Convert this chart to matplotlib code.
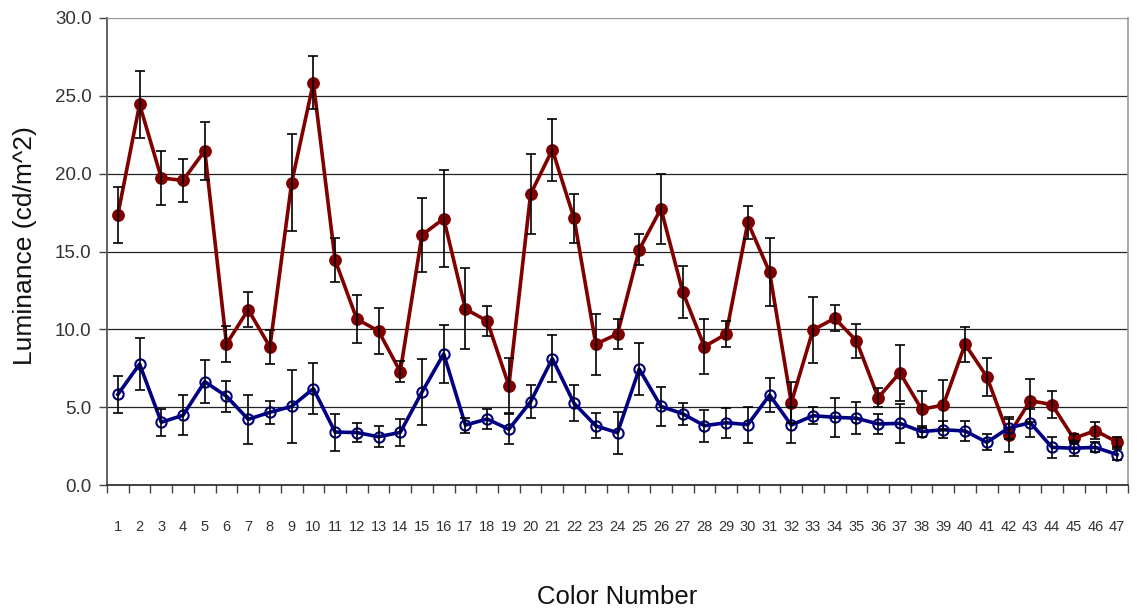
import matplotlib
matplotlib.use("Agg")
import matplotlib.pyplot as plt
from matplotlib.ticker import FixedLocator, FixedFormatter, NullFormatter
import numpy as np

color_numbers = list(range(1, 48))

# Luminance of the bright series (filled markers) and its error
bright_mean = [17.37, 24.45, 19.72, 19.57, 21.48, 9.06, 11.26, 8.87, 19.42, 25.85,
               14.45, 10.66, 9.89, 7.28, 16.06, 17.11, 11.31, 10.54, 6.38, 18.69,
               21.54, 17.13, 9.05, 9.70, 15.12, 17.75, 12.42, 8.89, 9.70, 16.87,
               13.68, 5.29, 9.96, 10.71, 9.26, 5.61, 7.22, 4.86, 5.14, 9.04,
               6.96, 3.19, 5.42, 5.16, 3.00, 3.49, 2.76]
bright_err = [1.80, 2.17, 1.76, 1.39, 1.86, 1.18, 1.14, 1.07, 3.10, 1.70,
              1.43, 1.53, 1.46, 0.69, 2.35, 3.10, 2.60, 0.94, 1.78, 2.59,
              1.99, 1.56, 1.96, 0.97, 1.00, 2.25, 1.67, 1.78, 0.84, 1.04,
              2.20, 1.32, 2.10, 0.84, 1.08, 0.63, 1.80, 1.19, 1.58, 1.14,
              1.23, 1.05, 1.36, 0.87, 0.30, 0.53, 0.34]

# Luminance of the dim series (open markers) and its error
dim_mean = [5.82, 7.77, 4.03, 4.48, 6.64, 5.70, 4.22, 4.67, 5.05, 6.19,
            3.40, 3.37, 3.10, 3.38, 5.97, 8.42, 3.85, 4.24, 3.58, 5.35,
            8.12, 5.25, 3.80, 3.36, 7.45, 5.05, 4.58, 3.81, 4.00, 3.88,
            5.78, 3.85, 4.45, 4.35, 4.29, 3.92, 3.96, 3.43, 3.55, 3.47,
            2.74, 3.66, 4.00, 2.42, 2.36, 2.42, 1.95]
dim_err = [1.21, 1.69, 0.86, 1.28, 1.40, 1.00, 1.57, 0.73, 2.32, 1.62,
           1.19, 0.62, 0.68, 0.85, 2.10, 1.84, 0.48, 0.67, 0.97, 1.05,
           1.50, 1.17, 0.80, 1.35, 1.65, 1.23, 0.71, 1.04, 0.97, 1.15,
           1.08, 1.18, 0.55, 1.26, 1.04, 0.66, 1.27, 0.33, 0.55, 0.64,
           0.52, 0.70, 0.90, 0.68, 0.49, 0.32, 0.35]

y_ticks = [0, 5, 10, 15, 20, 25, 30]
y_tick_labels = ["0.0", "5.0", "10.0", "15.0", "20.0", "25.0", "30.0"]

plt.rcParams["font.family"] = ["Liberation Sans", "DejaVu Sans"]

W, H = 1137, 613
fig = plt.figure(figsize=(W / 100, H / 100), dpi=100)
left, right, top, bottom = 107, 1128, 18, 485
ax = fig.add_axes([left / W, 1 - bottom / H, (right - left) / W, (bottom - top) / H])

red = "#800000"
navy = "#000080"

ax.plot(color_numbers, bright_mean, color=red, lw=2.6, marker="o", ms=8.2,
        mfc=red, mec=red, zorder=3)
ax.plot(color_numbers, dim_mean, color=navy, lw=2.6, marker="o", ms=7.4,
        mfc="none", mec=navy, mew=1.5, zorder=3)
ax.errorbar(color_numbers, bright_mean, yerr=bright_err, fmt="none",
            ecolor="black", elinewidth=1.2, capsize=3.4, capthick=1.2, zorder=4)
ax.errorbar(color_numbers, dim_mean, yerr=dim_err, fmt="none",
            ecolor="black", elinewidth=1.2, capsize=3.4, capthick=1.2, zorder=4)

ax.set_xlim(0.5, len(color_numbers) + 0.5)
ax.set_ylim(0, 30)

# horizontal grid
for v in y_ticks[1:]:
    ax.axhline(v, color="#222222" if v < 30 else "#888888", lw=0.9, zorder=1)

ax.yaxis.set_major_locator(FixedLocator(y_ticks))
ax.yaxis.set_major_formatter(FixedFormatter(y_tick_labels))
ax.tick_params(axis="y", which="major", direction="out", length=6, width=1,
               color="#444444", labelsize=13.5, labelcolor="#333333", pad=5)

# category boundaries carry the tick marks, labels sit at the centres
ax.xaxis.set_major_locator(FixedLocator(np.arange(0.5, len(color_numbers) + 1, 1.0)))
ax.xaxis.set_major_formatter(NullFormatter())
ax.xaxis.set_minor_locator(FixedLocator(color_numbers))
ax.xaxis.set_minor_formatter(FixedFormatter([str(c) for c in color_numbers]))
ax.tick_params(axis="x", which="major", direction="out", length=6, width=1,
               color="#444444")
ax.tick_params(axis="x", which="minor", length=0, labelsize=10.5,
               labelcolor="#333333", pad=25)
for lab in ax.xaxis.get_minorticklabels():
    lab.set_fontfamily(["Liberation Sans Narrow", "Liberation Sans", "DejaVu Sans"])

ax.spines["left"].set_color("#555555")
ax.spines["left"].set_linewidth(1.3)
ax.spines["bottom"].set_color("#333333")
ax.spines["bottom"].set_linewidth(1.3)
ax.spines["top"].set_color("#999999")
ax.spines["right"].set_color("#999999")
ax.spines["right"].set_linewidth(1.2)

ax.set_xlabel("Color Number", fontsize=18.5, color="#111111")
ax.xaxis.set_label_coords(0.5, (bottom - 585) / (bottom - top))
ax.set_ylabel("Luminance (cd/m^2)", fontsize=19, color="#111111")
ax.yaxis.set_label_coords((37 - left) / (right - left), (bottom - 246) / (bottom - top))

fig.savefig("out.png", dpi=100, facecolor="white")
